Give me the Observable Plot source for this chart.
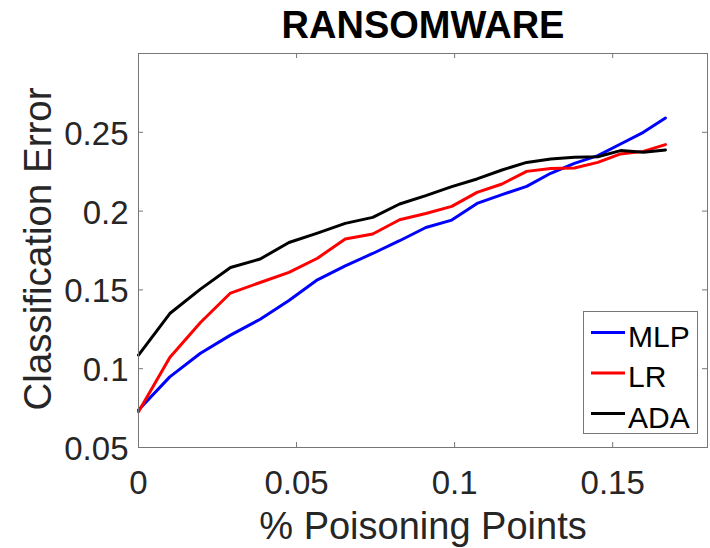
<!DOCTYPE html>
<html>
<head>
<meta charset="utf-8">
<script src="https://cdn.jsdelivr.net/npm/d3@7"></script>
<script src="https://cdn.jsdelivr.net/npm/@observablehq/plot@0.6"></script>
<style>
  body { margin: 0; background: #fff; }
  #chart { position: relative; width: 710px; height: 548px; }
</style>
</head>
<body>
<div id="chart"></div>
<script>
// Fraction of poisoned training points
const poisonFraction = [0, 0.0099, 0.0196, 0.0291, 0.0385, 0.0476, 0.0566, 0.0654, 0.0741, 0.0826,
  0.0909, 0.0991, 0.1071, 0.1150, 0.1228, 0.1304, 0.1379, 0.1453, 0.1525, 0.1597, 0.1667];

// Classification error for each model
const errMLP = [0.0738, 0.0948, 0.1098, 0.1213, 0.1314, 0.1433, 0.1564, 0.1653, 0.1731, 0.1812,
  0.1896, 0.1943, 0.2049, 0.2105, 0.2157, 0.2240, 0.2303, 0.2352, 0.2426, 0.2500, 0.2591];
const errLR = [0.0727, 0.1071, 0.1293, 0.1480, 0.1547, 0.1611, 0.1701, 0.1823, 0.1855, 0.1945,
  0.1985, 0.2030, 0.2119, 0.2172, 0.2252, 0.2271, 0.2274, 0.2309, 0.2363, 0.2379, 0.2422];
const errADA = [0.1086, 0.1350, 0.1505, 0.1642, 0.1696, 0.1801, 0.1860, 0.1922, 0.1960, 0.2045,
  0.2098, 0.2155, 0.2204, 0.2261, 0.2309, 0.2331, 0.2341, 0.2345, 0.2384, 0.2373, 0.2388];

const seriesNames = ["MLP", "LR", "ADA"];
const seriesColors = ["#0000ff", "#ff0000", "#000000"];
const xTicks = [0, 0.05, 0.1, 0.15];
const yTicks = [0.05, 0.1, 0.15, 0.2, 0.25];
const chartTitle = "RANSOMWARE";
const xLabel = "% Poisoning Points";
const yLabel = "Classification Error";

// Long-format table for the line mark
const rows = [errMLP, errLR, errADA].flatMap((vals, i) =>
  vals.map((v, j) => ({ model: seriesNames[i], x: poisonFraction[j], err: v })));

const width = 710, height = 548;
const mTop = 53, mRight = 3, mBottom = 101, mLeft = 138;
const innerW = width - mLeft - mRight, innerH = height - mTop - mBottom;
const tickLen = 5;
const axisColor = "#777";
const textColor = "#262626";
const font = "'Liberation Sans', Arial, Helvetica, sans-serif";

const svg = Plot.plot({
  width, height,
  marginTop: mTop, marginRight: mRight, marginBottom: mBottom, marginLeft: mLeft,
  style: { fontFamily: font, background: "#fff", overflow: "visible" },
  x: { domain: [0, 0.18] },
  y: { domain: [0.05, 0.3] },
  color: { domain: seriesNames, range: seriesColors },
  marks: [
    Plot.lineY(rows, { x: "x", y: "err", z: "model", stroke: "model", strokeWidth: 3 }),
    Plot.frame({ stroke: axisColor }),
    // inward ticks on all four sides of the box
    Plot.tickX(xTicks, { x: d => d, insetTop: innerH - tickLen, stroke: axisColor }),
    Plot.tickX(xTicks, { x: d => d, insetBottom: innerH - tickLen, stroke: axisColor }),
    Plot.tickY(yTicks, { y: d => d, insetRight: innerW - tickLen, stroke: axisColor }),
    Plot.tickY(yTicks, { y: d => d, insetLeft: innerW - tickLen, stroke: axisColor }),
    Plot.axisX(xTicks, { tickSize: 0, tickPadding: 23, fontSize: 33, fill: textColor,
      tickFormat: d => String(d), label: null }),
    Plot.axisY(yTicks, { tickSize: 0, tickPadding: 10, fontSize: 33, fill: textColor,
      tickFormat: d => String(d), label: null, dy: 2 }),
    Plot.text([chartTitle], { text: d => d, frameAnchor: "top", dy: -16, lineAnchor: "bottom",
      textAnchor: "middle", fontSize: 38, fontWeight: "bold", fill: "#000" }),
    Plot.text([xLabel], { text: d => d, frameAnchor: "bottom", dy: 91, lineAnchor: "bottom",
      textAnchor: "middle", fontSize: 38, fill: textColor }),
    Plot.text([yLabel], { text: d => d, frameAnchor: "left", dx: -88, dy: -1.5, rotate: -90,
      lineAnchor: "bottom", textAnchor: "middle", fontSize: 38.5, fill: textColor })
  ]
});

// Boxed legend in the lower-right corner of the axes
const lg = d3.select(svg).append("g")
  .attr("font-family", font).attr("text-anchor", "start");
lg.append("rect")
  .attr("x", 583.5).attr("y", 311.5).attr("width", 114).attr("height", 122)
  .attr("fill", "#fff").attr("stroke", axisColor);
seriesNames.forEach((name, i) => {
  const cy = 332.5 + i * 40.5;
  lg.append("line")
    .attr("x1", 591).attr("x2", 625).attr("y1", cy).attr("y2", cy)
    .attr("stroke", seriesColors[i]).attr("stroke-width", 3);
  lg.append("text")
    .attr("x", 628).attr("y", cy + 14).attr("font-size", 30).attr("fill", "#000")
    .attr("text-anchor", "start")
    .text(name);
});

document.getElementById("chart").appendChild(svg);
</script>
</body>
</html>
